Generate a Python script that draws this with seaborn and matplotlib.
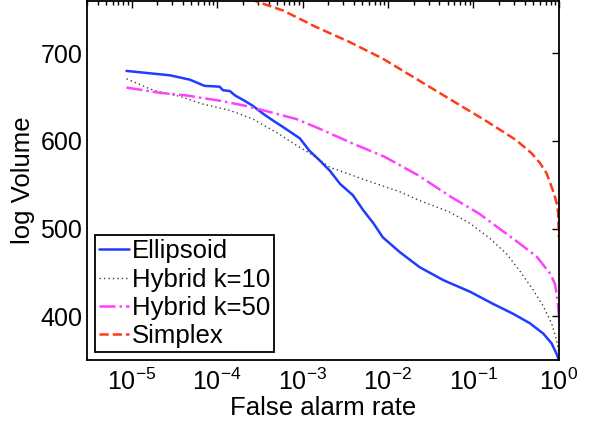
import numpy as np
import pandas as pd
import seaborn as sns
import matplotlib.pyplot as plt
from matplotlib.ticker import LogLocator, NullFormatter

# valori (false alarm rate, log volume)
ell_x = [8.7e-6, 2.8e-5, 4.8e-5, 7.1e-5, 1.07e-4, 1.17e-4, 1.41e-4, 1.62e-4, 2.09e-4, 2.63e-4,
         3.47e-4, 4.57e-4, 5.9e-4, 9.3e-4, 1.2e-3, 1.58e-3, 2.09e-3, 2.75e-3, 3.89e-3, 5.13e-3,
         6.76e-3, 8.7e-3, 1.38e-2, 2.34e-2, 4.47e-2, 9.1e-2, 0.17, 0.288, 0.457, 0.66,
         0.822, 0.94, 1.0]
ell_y = [680, 675, 670, 663, 662, 658, 657, 652, 646, 640,
         631, 623, 616, 603, 589, 578, 566, 551, 538, 521,
         506, 490, 473, 456, 441, 428, 414, 403, 392, 380,
         369, 357, 350]

h10_x = [8.7e-6, 1.78e-5, 3.63e-5, 6.9e-5, 1.41e-4, 2.63e-4, 4.9e-4, 8.5e-4, 1.26e-3, 2.09e-3,
         5.6e-3, 1.38e-2, 2.34e-2, 5.25e-2, 9.1e-2, 0.155, 0.245, 0.347, 0.5, 0.66,
         0.822, 0.94, 1.0]
h10_y = [671, 658, 651, 642, 635, 625, 610, 595, 585, 570,
         555, 542, 532, 519, 506, 489, 471, 452, 430, 411,
         392, 373, 358]

h50_x = [8.7e-6, 2.14e-5, 4.37e-5, 1.07e-4, 2.19e-4, 4.17e-4, 8.5e-4, 1.58e-3, 3.89e-3, 9.1e-3,
         2.24e-2, 5.5e-2, 0.117, 0.347, 0.55, 0.785, 0.9, 0.96, 0.99, 1.0]
h50_y = [661, 655, 652, 646, 640, 633, 625, 614, 597, 582,
         561, 536, 517, 483, 468, 449, 437, 420, 407, 400]

sim_x = [1e-5, 1e-4, 3.16e-4, 5.9e-4, 1.45e-3, 3.55e-3, 8.7e-3, 2.14e-2, 5.25e-2, 0.135,
         0.245, 0.316, 0.48, 0.6, 0.72, 0.877, 0.95, 0.982, 1.0]
sim_y = [800, 776, 758, 749, 730, 713, 694, 671, 648, 624,
         608, 601, 586, 575, 563, 540, 528, 517, 490]

series = [
    ("Ellipsoid", ell_x, ell_y, dict(color="#1f3cff", lw=1.8, ls="-")),
    ("Hybrid k=10", h10_x, h10_y, dict(color="#404040", lw=1.0, dashes=(1, 2.2))),
    ("Hybrid k=50", h50_x, h50_y, dict(color="#ff40ff", lw=1.8, ls="-.")),
    ("Simplex", sim_x, sim_y, dict(color="#ff3a1a", lw=1.8, ls="--")),
]

sns.set_style("white")
plt.rcParams['font.family'] = ['Liberation Sans', 'DejaVu Sans']
plt.rcParams['mathtext.fontset'] = 'custom'
plt.rcParams['mathtext.rm'] = 'Liberation Sans'
plt.rcParams['mathtext.it'] = 'Liberation Sans:italic'
plt.rcParams['text.color'] = 'black'
plt.rcParams['axes.labelcolor'] = 'black'
plt.rcParams['xtick.color'] = 'black'
plt.rcParams['ytick.color'] = 'black'

fig, ax = plt.subplots(figsize=(5.92, 4.25), dpi=100)
fig.subplots_adjust(left=0.147, right=0.944, bottom=0.153, top=0.998)

for name, xs, ys, style in series:
    df = pd.DataFrame({"far": xs, "vol": ys})
    style = dict(style)
    dashes = style.pop("dashes", None)
    sns.lineplot(data=df, x="far", y="vol", ax=ax, label=name,
                 estimator=None, sort=False, **style)
    if dashes is not None:
        ax.lines[-1].set_dashes(dashes)

ax.set_xscale("log")
ax.set_xlim(3e-6, 1)
ax.set_ylim(350, 760)
ax.set_yticks([400, 500, 600, 700])
ax.set_xticks([1e-5, 1e-4, 1e-3, 1e-2, 1e-1, 1e0])
ax.xaxis.set_minor_locator(LogLocator(base=10, subs=np.arange(2, 10), numticks=20))
ax.xaxis.set_minor_formatter(NullFormatter())

ax.tick_params(which="both", direction="in", top=True, right=True, labelsize=18,
               width=1.0)
ax.tick_params(which="major", length=5)
ax.tick_params(which="minor", length=3)
ax.tick_params(axis="x", which="major", pad=6)
for s in ax.spines.values():
    s.set_linewidth(1.3)
    s.set_color("black")

ax.set_xlabel("False alarm rate", fontsize=18.5, labelpad=1)
ax.set_ylabel("log Volume", fontsize=18.5, labelpad=4)

leg = ax.legend(loc="lower left", fontsize=18.5, frameon=True, fancybox=False,
                edgecolor="black", handlelength=1.2, handletextpad=0.1,
                borderpad=0.15, labelspacing=0.17, borderaxespad=0.3)
leg.get_frame().set_linewidth(1.3)
leg.get_frame().set_alpha(1)

plt.savefig("out.png", dpi=100)
